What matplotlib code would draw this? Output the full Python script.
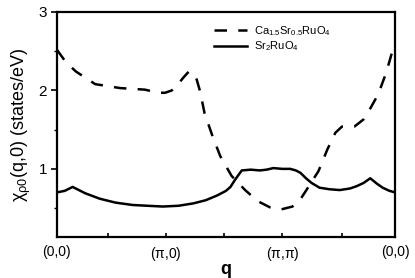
import numpy as np
import matplotlib
matplotlib.use("Agg")
import matplotlib.pyplot as plt

plt.rcParams['font.family'] = ['Liberation Sans', 'DejaVu Sans']
plt.rcParams['mathtext.fontset'] = 'custom'
plt.rcParams['mathtext.rm'] = 'Liberation Sans'
plt.rcParams['mathtext.it'] = 'Liberation Sans'

# path along (0,0) -> (pi,0) -> (pi,pi) -> (0,0)
q_ca = [0, 0.08, 0.17, 0.34, 0.56, 0.78, 0.90, 0.96, 1.02, 1.06, 1.12, 1.17, 1.21, 1.24, 1.27, 1.31,
        1.38, 1.45, 1.55, 1.67, 1.78, 1.89, 1.98, 2.09, 2.15, 2.20, 2.32, 2.40, 2.47,
        2.53, 2.64, 2.72, 2.78, 2.85, 2.92, 2.97, 3.0]
chi_ca = [2.52, 2.36, 2.24, 2.08, 2.03, 2.01, 1.97, 1.97, 2.00, 2.05, 2.16, 2.24, 2.22, 2.14, 1.99, 1.71,
          1.42, 1.16, 0.91, 0.73, 0.59, 0.51, 0.48, 0.52, 0.59, 0.70, 0.97, 1.25, 1.46,
          1.54, 1.54, 1.63, 1.77, 1.95, 2.22, 2.47, 2.56]

q_sr = [0, 0.07, 0.14, 0.25, 0.38, 0.52, 0.67, 0.80, 0.94, 1.08, 1.21, 1.32, 1.42,
        1.50, 1.54, 1.58, 1.64, 1.72, 1.80, 1.86, 1.92, 2.0, 2.07, 2.12, 2.16, 2.21, 2.26,
        2.33, 2.42, 2.51, 2.60, 2.66, 2.72, 2.78, 2.84, 2.89, 2.95, 3.0]
chi_sr = [0.70, 0.72, 0.77, 0.69, 0.62, 0.57, 0.54, 0.53, 0.52, 0.53, 0.56, 0.60, 0.66,
          0.72, 0.77, 0.86, 0.98, 0.99, 0.98, 0.99, 1.01, 1.00, 1.00, 0.98, 0.95, 0.88, 0.82,
          0.76, 0.74, 0.73, 0.75, 0.78, 0.82, 0.88, 0.81, 0.76, 0.72, 0.70]

tick_pos = [0, 0.97, 2.0, 3.0]
tick_labels = ['(0,0)', r'($\pi$,0)', r'($\pi$,$\pi$)', '(0,0)']

fig = plt.figure(figsize=(4.15, 2.78), dpi=100)
ax = fig.add_axes([0.137, 0.147, 0.815, 0.81])

ax.plot(q_ca, chi_ca, color='black', lw=1.8, ls=(0, (5, 4.5)),
        label=r'Ca$_{1.5}$Sr$_{0.5}$RuO$_4$')
ax.plot(q_sr, chi_sr, color='black', lw=1.8, label=r'Sr$_2$RuO$_4$')

ax.set_xlim(0, 3)
ax.set_ylim(0.13, 3)
ax.set_xticks(tick_pos)
ax.set_xticklabels(tick_labels, fontsize=10)
ax.set_xticks([0.45, 1.48, 2.53], minor=True)
ax.set_yticks([1, 2, 3])
ax.set_yticks([0.5, 1.5, 2.5], minor=True)
ax.tick_params(axis='y', labelsize=11, direction='out', length=4, width=1.2, pad=3)
ax.tick_params(axis='y', which='minor', direction='out', length=2.5, width=1)
ax.tick_params(axis='x', which='both', direction='in', length=3, width=1.2, pad=6)

for s in ax.spines.values():
    s.set_linewidth(1.6)

ax.set_xlabel('q', fontsize=13, fontweight='bold', labelpad=-2)
ax.set_ylabel(r'$\chi_{\rho0}$(q,0) (states/eV)', fontsize=13, labelpad=4)

ax.legend(loc='upper right', bbox_to_anchor=(0.84, 0.99), frameon=False,
          fontsize=8, handlelength=3.0, handletextpad=0.6, labelspacing=0.15)

fig.savefig('out.png', dpi=100)
